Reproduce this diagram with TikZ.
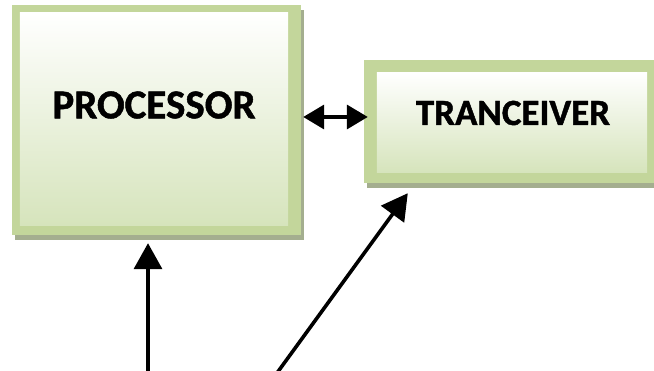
\documentclass[tikz,border=0pt]{standalone}
\usepackage{fontspec}
\setmainfont{Carlito}[BoldFeatures={FakeBold=1.2}]
\usetikzlibrary{arrows.meta,shadows}
\definecolor{bordergreen}{HTML}{C3D69B}
\definecolor{shadowgrey}{HTML}{A4AE8F}
\definecolor{fillgreen}{HTML}{D6E4BC}
\tikzset{
  boxframe/.style={rectangle, fill=bordergreen, inner sep=0pt,
    drop shadow={shadow xshift=3pt, shadow yshift=-5pt, fill=shadowgrey, opacity=1}},
  boxface/.style={top color=white, bottom color=fillgreen},
  boxtext/.style={font=\bfseries\fontsize{#1}{#1}\selectfont, inner sep=0pt},
  link/.style={line width=3.6pt, black},
  bigtip/.style={-{Triangle[length=26pt,width=28pt]}},
  twotip/.style={{Triangle[length=21pt,width=24pt]}-{Triangle[length=21pt,width=24pt]}}
}
\begin{document}
\begin{tikzpicture}[x=1pt,y=1pt]
\useasboundingbox (0,0) rectangle (654,371);
\clip (0,0) rectangle (654,371);

% processor block
\node[boxframe, minimum width=289pt, minimum height=230pt] (proc) at (156.5,251) {};
\shade[boxface] ([shift={(8pt,-8pt)}]proc.north west) rectangle ([shift={(-13pt,10pt)}]proc.south east);
\node[boxtext=41] (proctext) at (154,266) {PROCESSOR};

% transceiver block
\node[boxframe, minimum width=306pt, minimum height=123pt] (trx) at (517,249.5) {};
\shade[boxface] ([shift={(13pt,-13pt)}]trx.north west) rectangle ([shift={(-23pt,11pt)}]trx.south east);
\node[boxtext=37] (trxtext) at (513,258) {TRANCEIVER};

% connectors
\draw[link, twotip] ([shift={(2pt,3pt)}]proc.east) -- ([shift={(4pt,3pt)}]proc.east -| trx.west);

\coordinate (inA) at (148,-2);
\coordinate (inB) at (277,-2);
\draw[link, bigtip] (inA) -- ([yshift=-8pt]inA |- proc.south);
\draw[link, bigtip] (inB) -- ([shift={(44pt,-10pt)}]trx.south west);
\end{tikzpicture}
\end{document}
